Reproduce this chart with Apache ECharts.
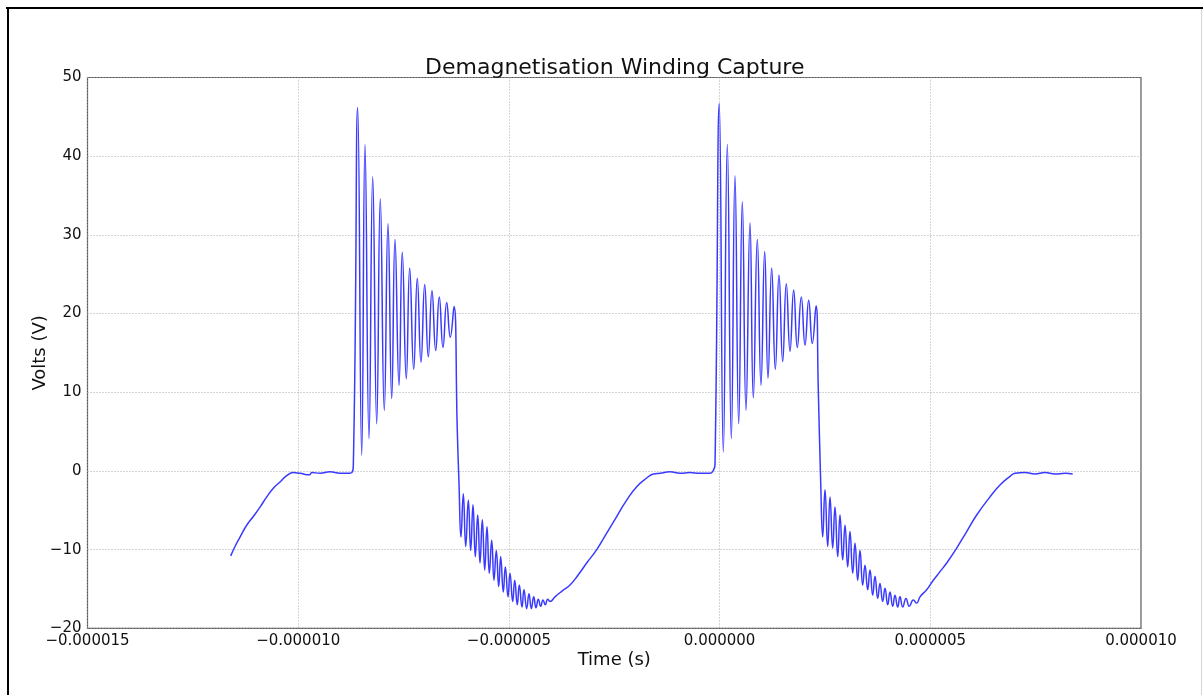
<!DOCTYPE html>
<html>
<head>
<meta charset="utf-8">
<title>Demagnetisation Winding Capture</title>
<script src="https://cdn.jsdelivr.net/npm/echarts@6/dist/echarts.min.js"></script>
<style>
  html, body { margin: 0; padding: 0; background: #ffffff; }
  #chart { width: 1203px; height: 695px; }
</style>
</head>
<body>
<div id="chart"></div>
<script>
// Oscilloscope capture of the demagnetisation winding, two switching cycles.
// Time in microseconds (axis labels are shown in seconds), voltage in volts.

// Axis ticks
const xTicks = [-15, -10, -5, 0, 5, 10];
const yTicks = [-20, -10, 0, 10, 20, 30, 40, 50];

// First cycle: ramp in, idle, ringing turn-off burst, negative ringing, recovery ramp
const pulse1Time = [
  -11.602, -11.500, -11.381, -11.222, -11.066, -10.906, -10.747, -10.591, -10.432, -10.273, -10.116,
  -9.957, -9.737, -9.673, -9.483, -9.245, -9.008, -8.771, -8.692,
  -8.588, -8.493, -8.415, -8.320, -8.232, -8.137, -8.052, -7.957, -7.869, -7.781,
  -7.703, -7.608, -7.530, -7.435, -7.354, -7.259, -7.174, -7.086, -6.998, -6.913,
  -6.825, -6.737, -6.652, -6.564, -6.476, -6.391, -6.303,
  -6.224, -6.184,
  -6.137, -6.082, -6.025, -5.963, -5.907, -5.852, -5.797, -5.740, -5.686, -5.631,
  -5.574, -5.520, -5.465, -5.408, -5.354, -5.299, -5.242, -5.195, -5.133, -5.085,
  -5.021, -4.974, -4.910, -4.862, -4.801, -4.753, -4.689, -4.642, -4.578, -4.523,
  -4.468, -4.411, -4.357, -4.302, -4.245, -4.191, -4.136, -4.079, -4.025,
  -3.906, -3.747, -3.550, -3.353, -3.154, -2.916, -2.679, -2.442, -2.205, -1.967, -1.730, -1.573,
  -1.414, -1.177, -0.940, -0.705, -0.465, -0.228, -0.157
];
const pulse1Volts = [
  -10.8, -9.6, -8.4, -6.9, -5.8, -4.6, -3.3, -2.2, -1.4, -0.6, -0.2,
  -0.3, -0.5, -0.2, -0.3, -0.1, -0.3, -0.3, 0.7,
  46.2, 2.0, 41.5, 4.1, 37.4, 6.0, 34.6, 7.7, 31.4, 9.2,
  29.4, 10.9, 27.8, 11.7, 25.8, 12.9, 24.5, 13.8, 23.7, 14.5,
  22.9, 15.3, 22.1, 15.7, 21.4, 17.0, 20.9,
  5.0, -1.6,
  -8.4, -2.9, -9.6, -3.7, -10.1, -4.3, -10.9, -5.6, -11.7, -6.2,
  -12.6, -7.1, -13.0, -8.8, -13.9, -10.1, -14.7, -10.9, -15.4, -12.2,
  -16.0, -13.0, -16.6, -13.9, -17.0, -14.5, -17.3, -15.1, -17.5, -15.6,
  -17.5, -16.0, -17.4, -16.3, -17.2, -16.4, -17.0, -16.3, -16.6,
  -16.0, -15.3, -14.5, -13.2, -11.7, -10.0, -7.9, -5.8, -3.7, -2.0, -0.9, -0.4,
  -0.3, -0.1, -0.3, -0.2, -0.3, -0.3, 0.0
];

// Second cycle
const pulse2Time = [
  -0.109,
  -0.007, 0.088, 0.183, 0.278, 0.365, 0.453, 0.539, 0.626, 0.721, 0.800,
  0.895, 0.982, 1.070, 1.149, 1.236, 1.322, 1.410, 1.497, 1.583, 1.671,
  1.758, 1.844, 1.939, 2.027, 2.114, 2.200, 2.288,
  2.342, 2.399,
  2.447, 2.501, 2.565, 2.620, 2.684, 2.738, 2.803, 2.857, 2.921, 2.976,
  3.040, 3.094, 3.159, 3.213, 3.277, 3.332, 3.396, 3.450, 3.514, 3.569,
  3.633, 3.688, 3.752, 3.806, 3.870, 3.925, 3.989, 4.044, 4.108, 4.162,
  4.226, 4.281, 4.345, 4.423, 4.502, 4.597, 4.677,
  4.756, 4.914, 5.071, 5.230, 5.389, 5.626, 5.864, 6.101, 6.417, 6.654, 6.891, 7.010,
  7.247, 7.485, 7.722, 7.959, 8.197, 8.379
];
const pulse2Volts = [
  0.8,
  46.7, 2.4, 41.5, 4.1, 37.5, 6.0, 34.2, 7.7, 31.5, 9.3,
  29.4, 10.9, 27.9, 11.8, 25.8, 12.9, 24.9, 13.9, 23.8, 15.2,
  23.0, 15.7, 22.1, 16.0, 21.7, 16.2, 21.0,
  10.3, -1.4,
  -8.4, -2.4, -9.6, -3.3, -9.8, -4.6, -10.9, -5.6, -11.3, -6.9,
  -12.2, -7.7, -13.0, -9.2, -13.9, -10.1, -14.5, -12.0, -15.1, -12.6,
  -15.8, -13.4, -16.2, -14.3, -16.6, -14.9, -17.0, -15.4, -17.2, -15.8,
  -17.3, -16.0, -17.3, -16.2, -17.2, -16.4, -16.8,
  -16.0, -15.1, -13.9, -12.8, -11.7, -9.8, -7.7, -5.6, -3.3, -1.8, -0.7, -0.3,
  -0.2, -0.4, -0.2, -0.4, -0.3, -0.4
];

function pairs(ts, vs) {
  const n = Math.min(ts.length, vs.length);
  const out = [];
  for (let i = 0; i < n; i++) out.push([ts[i], vs[i]]);
  return out;
}
const trace = pairs(pulse1Time, pulse1Volts).concat(pairs(pulse2Time, pulse2Volts));

const MINUS = '\u2212';
const FONT = 'DejaVu Sans';
const GRID = { left: 87.5, right: 62, top: 77.5, bottom: 66.7 };
const plotCentreX = GRID.left + (1203 - GRID.left - GRID.right) / 2;
const TRACE_BLUE = '#3a3aff';

const chart = echarts.init(document.getElementById('chart'), null, { renderer: 'canvas' });
chart.setOption({
  animation: false,
  backgroundColor: '#ffffff',
  title: {
    text: 'Demagnetisation Winding Capture',
    left: plotCentreX - 4.5,
    textAlign: 'center',
    top: 52,
    textStyle: { fontFamily: FONT, fontSize: 22, fontWeight: 'normal', color: '#111' }
  },
  grid: Object.assign({ show: true, borderColor: '#555', borderWidth: 1.2, backgroundColor: '#fff' }, GRID),
  xAxis: {
    type: 'value',
    min: xTicks[0],
    max: xTicks[xTicks.length - 1],
    interval: xTicks[1] - xTicks[0],
    name: 'Time (s)',
    nameLocation: 'middle',
    nameGap: 23,
    nameMoveOverlap: false,
    nameTextStyle: { fontFamily: FONT, fontSize: 18, color: '#111' },
    axisLine: { show: false },
    axisTick: { show: false },
    axisLabel: {
      fontFamily: FONT, fontSize: 15, color: '#111', margin: 5,
      showMinLabel: true, showMaxLabel: true,
      formatter: v => (v * 1e-6).toFixed(6).replace('-', MINUS)
    },
    splitLine: { show: true, lineStyle: { color: '#a8a8a8', type: [1, 2], width: 1 } }
  },
  yAxis: {
    type: 'value',
    min: yTicks[0],
    max: yTicks[yTicks.length - 1],
    interval: yTicks[1] - yTicks[0],
    name: 'Volts (V)',
    nameLocation: 'middle',
    nameGap: 38,
    nameMoveOverlap: false,
    nameTextStyle: { fontFamily: FONT, fontSize: 18, color: '#111' },
    axisLine: { show: false },
    axisTick: { show: false },
    axisLabel: {
      fontFamily: FONT, fontSize: 15, color: '#111', margin: 6,
      showMinLabel: true, showMaxLabel: true,
      formatter: v => String(v).replace('-', MINUS)
    },
    splitLine: { show: true, lineStyle: { color: '#a8a8a8', type: [1, 2], width: 1 } }
  },
  series: [{
    type: 'line',
    data: trace,
    showSymbol: false,
    symbol: 'none',
    smooth: 0.5,
    lineStyle: { color: TRACE_BLUE, width: 1.5 },
    itemStyle: { color: TRACE_BLUE }
  }],
  graphic: [
    { type: 'line', silent: true, shape: { x1: 6, y1: 8, x2: 1203, y2: 8 }, style: { stroke: '#000', lineWidth: 2 } },
    { type: 'line', silent: true, shape: { x1: 8, y1: 7, x2: 8, y2: 695 }, style: { stroke: '#000', lineWidth: 2 } },
    { type: 'line', silent: true, shape: { x1: 1201.5, y1: 9, x2: 1201.5, y2: 695 }, style: { stroke: '#d4d4d4', lineWidth: 1 } }
  ]
});
</script>
</body>
</html>
